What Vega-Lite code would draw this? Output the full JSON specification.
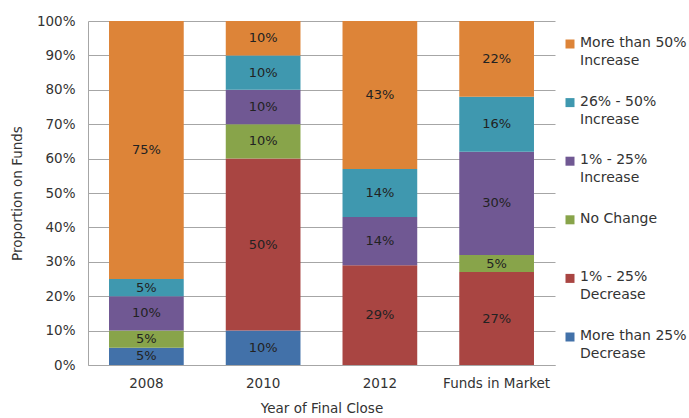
{
  "$schema": "https://vega.github.io/schema/vega-lite/v6.json",
  "width": 467,
  "height": 344,
  "autosize": {"type": "none"},
  "padding": {"left": 88, "top": 21, "right": 134, "bottom": 53},
  "background": "white",
  "config": {
    "view": {"stroke": null},
    "font": "DejaVu Sans",
    "axis": {"labelFont": "DejaVu Sans", "titleFont": "DejaVu Sans", "labelColor": "#333333", "titleColor": "#333333", "labelFontSize": 13.5, "titleFontSize": 13.5, "titleFontWeight": "normal"},
    "legend": {"labelFont": "DejaVu Sans", "labelFontSize": 14, "labelColor": "#333333"}
  },
  "data": {
    "values": [
      {"cat": "2008", "grp": "More than 25% Decrease", "k": 1, "v": 0.05},
      {"cat": "2008", "grp": "No Change", "k": 3, "v": 0.05},
      {"cat": "2008", "grp": "1% - 25% Increase", "k": 4, "v": 0.10},
      {"cat": "2008", "grp": "26% - 50% Increase", "k": 5, "v": 0.05},
      {"cat": "2008", "grp": "More than 50% Increase", "k": 6, "v": 0.75},
      {"cat": "2010", "grp": "More than 25% Decrease", "k": 1, "v": 0.10},
      {"cat": "2010", "grp": "1% - 25% Decrease", "k": 2, "v": 0.50},
      {"cat": "2010", "grp": "No Change", "k": 3, "v": 0.10},
      {"cat": "2010", "grp": "1% - 25% Increase", "k": 4, "v": 0.10},
      {"cat": "2010", "grp": "26% - 50% Increase", "k": 5, "v": 0.10},
      {"cat": "2010", "grp": "More than 50% Increase", "k": 6, "v": 0.10},
      {"cat": "2012", "grp": "1% - 25% Decrease", "k": 2, "v": 0.29},
      {"cat": "2012", "grp": "1% - 25% Increase", "k": 4, "v": 0.14},
      {"cat": "2012", "grp": "26% - 50% Increase", "k": 5, "v": 0.14},
      {"cat": "2012", "grp": "More than 50% Increase", "k": 6, "v": 0.43},
      {"cat": "Funds in Market", "grp": "1% - 25% Decrease", "k": 2, "v": 0.27},
      {"cat": "Funds in Market", "grp": "No Change", "k": 3, "v": 0.05},
      {"cat": "Funds in Market", "grp": "1% - 25% Increase", "k": 4, "v": 0.30},
      {"cat": "Funds in Market", "grp": "26% - 50% Increase", "k": 5, "v": 0.16},
      {"cat": "Funds in Market", "grp": "More than 50% Increase", "k": 6, "v": 0.22}
    ]
  },
  "encoding": {
    "x": {
      "field": "cat", "type": "nominal", "sort": null,
      "scale": {"paddingInner": 0.36, "paddingOuter": 0.18},
      "axis": {"title": "Year of Final Close", "labelAngle": 0, "ticks": false, "domainColor": "#A6A6A6", "labelPadding": 11, "titlePadding": 12}
    },
    "y": {
      "field": "v", "type": "quantitative", "stack": "zero",
      "scale": {"domain": [0, 1]},
      "axis": {"title": "Proportion on Funds", "values": [0,0.1,0.2,0.3,0.4,0.5,0.6,0.7,0.8,0.9,1], "format": ".0%", "ticks": false, "grid": true, "gridColor": "#A6A6A6", "domainColor": "#A6A6A6", "labelPadding": 13, "titlePadding": 12}
    },
    "order": {"field": "k", "type": "quantitative", "sort": "ascending"}
  },
  "layer": [
    {
      "mark": {"type": "bar"},
      "encoding": {
        "color": {
          "field": "grp", "type": "nominal",
          "scale": {
            "domain": ["More than 50% Increase", "26% - 50% Increase", "1% - 25% Increase", "No Change", "1% - 25% Decrease", "More than 25% Decrease"],
            "range": ["#DD8438", "#3F98AF", "#705893", "#88A44A", "#A94542", "#4271A9"]
          },
          "legend": {
            "title": null,
            "orient": "none",
            "legendX": 475,
            "legendY": 16,
            "symbolType": "square",
            "symbolSize": 81,
            "symbolStrokeWidth": 0,
            "gridAlign": "all",
            "rowPadding": 26.6,
            "labelOffset": 3,
            "labelBaseline": "top",
            "encode": {"labels": {"update": {"dy": {"value": -8}, "lineHeight": {"value": 18}}}},
            "labelExpr": "datum.label == 'More than 50% Increase' ? ['More than 50%', 'Increase'] : datum.label == '26% - 50% Increase' ? ['26% - 50%', 'Increase'] : datum.label == '1% - 25% Increase' ? ['1% - 25%', 'Increase'] : datum.label == '1% - 25% Decrease' ? ['1% - 25%', 'Decrease'] : datum.label == 'More than 25% Decrease' ? ['More than 25%', 'Decrease'] : [datum.label, ' ']"
          }
        }
      }
    },
    {
      "mark": {"type": "text", "fontSize": 13, "color": "#222222", "baseline": "middle"},
      "encoding": {
        "y": {"field": "v", "type": "quantitative", "stack": "zero", "bandPosition": 0.5},
        "text": {"field": "v", "type": "quantitative", "format": ".0%"},
        "detail": {"field": "grp"}
      }
    }
  ]
}
